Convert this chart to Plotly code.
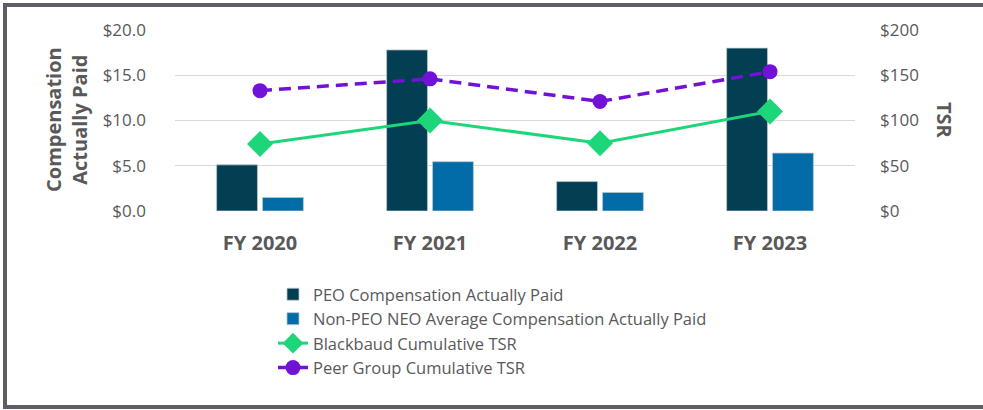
import plotly.graph_objects as go

categories = ["FY 2020", "FY 2021", "FY 2022", "FY 2023"]
peo_cap = [5.1, 17.8, 3.25, 18.0]
neo_cap = [1.5, 5.45, 2.05, 6.4]
bb_tsr = [74, 100, 75, 110]
peer_tsr = [133, 146, 121, 154]

FONT = "Open Sans"
GRAY = "#595959"

fig = go.Figure()
fig.add_trace(go.Bar(x=categories, y=peo_cap, name="PEO Compensation Actually Paid",
                     marker=dict(color="#023f52", line=dict(color="#b9c7cc", width=0.8))))
fig.add_trace(go.Bar(x=categories, y=neo_cap, name="Non-PEO NEO Average Compensation Actually Paid",
                     marker=dict(color="#016ca7", line=dict(color="#b9c7cc", width=0.8))))
fig.add_trace(go.Scatter(x=categories, y=bb_tsr, name="Blackbaud Cumulative TSR", yaxis="y2",
                         mode="lines+markers",
                         line=dict(color="#1ed67a", width=3),
                         marker=dict(symbol="diamond", size=20, color="#1ed67a")))
fig.add_trace(go.Scatter(x=categories, y=peer_tsr, name="Peer Group Cumulative TSR", yaxis="y2",
                         mode="lines+markers",
                         line=dict(color="#7212d6", width=3.5, dash="12px,7px"),
                         marker=dict(symbol="circle", size=15, color="#7212d6")))

L, R, T, B = 175, 128, 30, 199
W, H = 983, 410
pw, ph = W - L - R, H - T - B

def px(x):
    return (x - L) / pw

def py(y):
    return (H - B - y) / ph

fig.update_layout(
    width=W, height=H,
    margin=dict(l=L, r=R, t=T, b=B),
    paper_bgcolor="white", plot_bgcolor="white",
    barmode="group", bargap=0.46, bargroupgap=0.11,
    font=dict(family=FONT, color=GRAY, size=16),
    showlegend=True,
    legend=dict(x=px(273), y=py(277), xanchor="left", yanchor="top",
                font=dict(family=FONT, size=16.5, color=GRAY),
                bgcolor="rgba(0,0,0,0)", tracegroupgap=0, traceorder="normal"),
    xaxis=dict(showgrid=False, showline=False, ticks="", ticklabelstandoff=18,
               tickfont=dict(family=FONT, size=20, color=GRAY, weight="bold")),
    yaxis=dict(range=[0, 20], dtick=5, tickprefix="$", tickformat=".1f",
               showgrid=True, gridcolor="#d9d9d9", gridwidth=1, zeroline=False,
               showline=False, ticks="", ticklabelstandoff=28,
               tickfont=dict(family=FONT, size=17, color=GRAY)),
    yaxis2=dict(range=[0, 200], dtick=50, tickprefix="$", tickformat=".0f",
                overlaying="y", side="right", showgrid=False, zeroline=False,
                showline=False, ticks="", ticklabelstandoff=24,
                tickfont=dict(family=FONT, size=17, color=GRAY)),
)

fig.add_annotation(text="Compensation<br>Actually Paid", xref="paper", yref="paper",
                   x=px(67), y=py(120), xanchor="center", yanchor="middle",
                   textangle=-90, showarrow=False,
                   font=dict(family=FONT, size=20, color=GRAY, weight="bold"))
fig.add_annotation(text="TSR", xref="paper", yref="paper",
                   x=px(944), y=py(120), xanchor="center", yanchor="middle",
                   textangle=90, showarrow=False,
                   font=dict(family=FONT, size=20, color=GRAY, weight="bold"))

border = dict(color="#5b5e64", width=4)
for (xa, ya, xb, yb) in [(5, 5, 1000, 5), (5, 3, 5, 409), (3, 407, 1000, 407)]:
    fig.add_shape(type="line", xref="paper", yref="paper",
                  x0=px(xa), y0=py(ya), x1=px(xb), y1=py(yb),
                  line=border, layer="below")

fig.write_html("out.html", config={"displayModeBar": False},
               post_script="document.body.style.margin='0px';document.body.style.overflow='hidden';")
